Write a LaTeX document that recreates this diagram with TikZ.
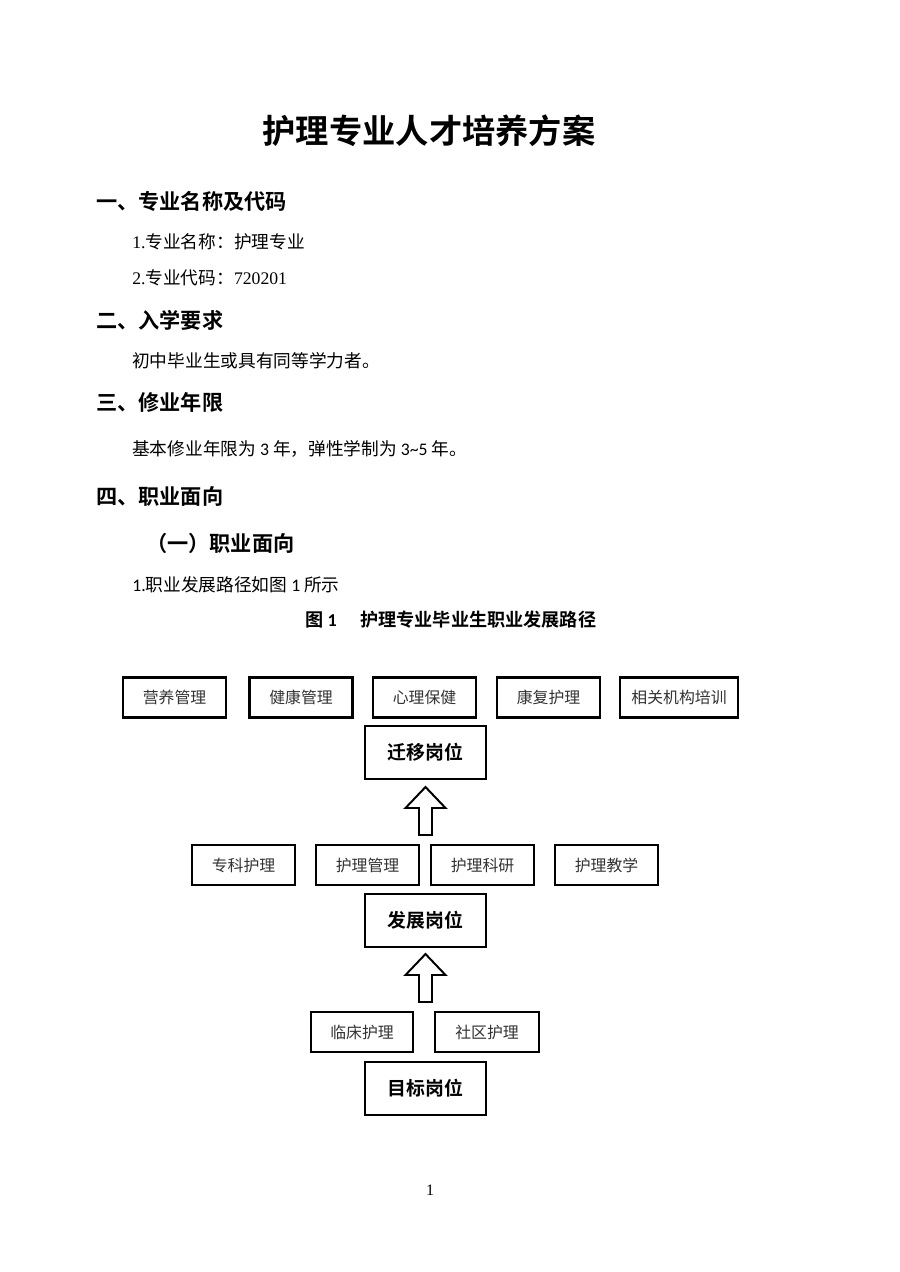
\documentclass[tikz,border=0pt]{standalone}
\usepackage{fontspec}
\usepackage{tikz}
\usetikzlibrary{positioning}
\setmainfont{Liberation Serif}
\newfontfamily\cjk{Noto Sans CJK SC}[BoldFont={Noto Sans CJK SC Bold}]
\newfontfamily\calfont{Carlito}
\definecolor{ColWhite}{RGB}{255,255,255}
\definecolor{ColLine}{RGB}{0,0,0}
\definecolor{ColText}{RGB}{51,51,51}
\tikzstyle{PostBox}=[draw=ColLine,line width=1.6pt,minimum width=103*0.6614pt,
minimum height=40*0.6614pt,inner sep=0pt,text=ColText,font=\cjk\fontsize{10.5}{12}\selectfont]
\tikzstyle{LevelBox}=[draw=ColLine,line width=1.6pt,minimum width=121*0.6614pt,
minimum height=53*0.6614pt,inner sep=0pt,font=\cjk\bfseries\fontsize{12.5}{14}\selectfont]
\tikzstyle{BlockArrow}=[draw=ColLine,line width=1.3pt,fill=ColWhite,line join=miter]
\tikzstyle{Heading}=[anchor=west,inner sep=0pt,font=\cjk\bfseries\fontsize{14}{16}\selectfont]
\tikzstyle{Body}=[anchor=west,inner sep=0pt,font=\cjk\fontsize{11.7}{14}\selectfont]

\begin{document}
\begin{tikzpicture}[x=0.6614pt,y=-0.6614pt]
        \useasboundingbox[fill=ColWhite](0,0)rectangle(900,1272);
        % page text
        \node[inner sep=0pt,font=\cjk\bfseries\fontsize{22}{26}\selectfont](title)at(429,131){护理专业人才培养方案};
        \node[Heading](h1)at(96,201){一、专业名称及代码};
        \node[Body](b1)at(132,242){{\rmfamily 1.}专业名称：护理专业};
        \node[Body](b2)at(132,278){{\rmfamily 2.}专业代码：{\rmfamily 720201}};
        \node[Heading](h2)at(96,320){二、入学要求};
        \node[Body](b3)at(132,361){初中毕业生或具有同等学力者。};
        \node[Heading](h3)at(96,402){三、修业年限};
        \node[Body](b4)at(132,449){基本修业年限为{\calfont\ 3 }年，弹性学制为{\calfont\ 3\textasciitilde5 }年。};
        \node[Heading](h4)at(96,496){四、职业面向};
        \node[Heading](h5)at(146,543){（一）职业面向};
        \node[Body](b5)at(132,585){{\calfont 1.}职业发展路径如图{\calfont\ 1 }所示};
        \node[inner sep=0pt,anchor=west,font=\cjk\bfseries\fontsize{12}{14}\selectfont](cap)at(305,620){图{\calfont\bfseries\ 1}\hspace{1.3em}护理专业毕业生职业发展路径};
        \node[inner sep=0pt,font=\rmfamily\fontsize{10.5}{12}\selectfont](pg)at(430,1190){1};
        % transfer posts
        \node[PostBox](nutr)at(174.5,697.5){营养管理};
        \node[PostBox](heal)at(301,697.5){健康管理};
        \node[PostBox](psyc)at(424.5,697.5){心理保健};
        \node[PostBox](rehab)at(548.5,697.5){康复护理};
        \node[PostBox,minimum width=118*0.6614pt](train)at(679,697.5){相关机构培训};
        \node[LevelBox](migr)at(425.5,752.5){迁移岗位};
        % development posts
        \node[PostBox](spec)at(243.5,865){专科护理};
        \node[PostBox](mgmt)at(367.5,865){护理管理};
        \node[PostBox](resr)at(482.5,865){护理科研};
        \node[PostBox](teach)at(606.5,865){护理教学};
        \node[LevelBox](devel)at(425.5,920.5){发展岗位};
        % target posts
        \node[PostBox,minimum width=102*0.6614pt](clin)at(362,1032){临床护理};
        \node[PostBox,minimum width=104*0.6614pt](comm)at(487,1032){社区护理};
        \node[LevelBox](targ)at(425.5,1088.5){目标岗位};
        % block arrows
        \foreach \tip in {787,954}
            \draw[BlockArrow](425.5,\tip)--(445.5,\tip+21)--(432,\tip+21)--(432,\tip+48)
                --(419,\tip+48)--(419,\tip+21)--(405.5,\tip+21)--cycle;
    \end{tikzpicture}
\end{document}
